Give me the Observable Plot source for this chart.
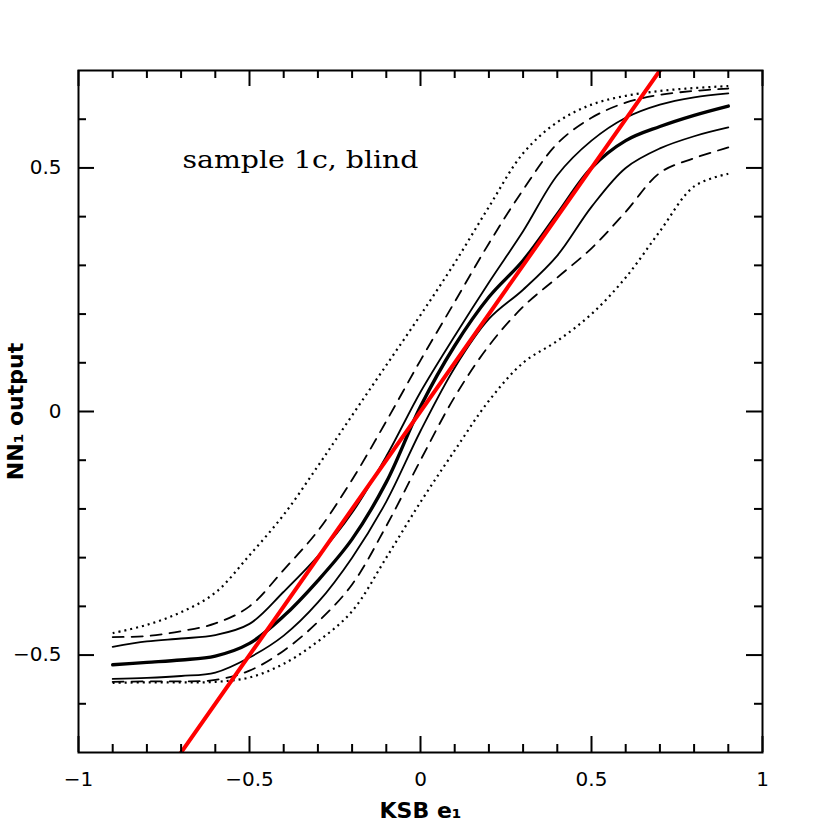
<!DOCTYPE html>
<html>
<head>
<meta charset="utf-8">
<script src="https://cdn.jsdelivr.net/npm/d3@7"></script>
<script src="https://cdn.jsdelivr.net/npm/@observablehq/plot@0.6"></script>
<style>
  html, body { margin: 0; padding: 0; background: #fff; }
</style>
</head>
<body>
<div id="chart"></div>
<script>
// ---- data ----
const xs = [-0.9, -0.8, -0.7, -0.6, -0.5, -0.4, -0.3, -0.2, -0.1, 0, 0.1, 0.2, 0.3, 0.4, 0.5, 0.6, 0.7, 0.8, 0.9];

const median      = [-0.520, -0.515, -0.510, -0.502, -0.476, -0.420, -0.347, -0.262, -0.145, 0.010, 0.135, 0.235, 0.310, 0.405, 0.500, 0.556, 0.585, 0.608, 0.627];
const innerUpper  = [-0.483, -0.472, -0.466, -0.459, -0.436, -0.370, -0.297, -0.208, -0.092, 0.040, 0.155, 0.265, 0.370, 0.485, 0.556, 0.603, 0.630, 0.645, 0.653];
const innerLower  = [-0.549, -0.547, -0.543, -0.536, -0.505, -0.460, -0.392, -0.300, -0.185, -0.040, 0.090, 0.190, 0.250, 0.320, 0.420, 0.500, 0.540, 0.565, 0.583];
const midUpper    = [-0.463, -0.461, -0.451, -0.435, -0.400, -0.325, -0.245, -0.140, -0.020, 0.105, 0.225, 0.345, 0.455, 0.550, 0.603, 0.634, 0.650, 0.658, 0.663];
const midLower    = [-0.555, -0.554, -0.554, -0.551, -0.532, -0.491, -0.432, -0.355, -0.235, -0.100, 0.030, 0.135, 0.215, 0.275, 0.335, 0.410, 0.490, 0.520, 0.542];
const outerUpper  = [-0.455, -0.438, -0.412, -0.372, -0.295, -0.212, -0.112, -0.008, 0.095, 0.198, 0.305, 0.420, 0.530, 0.594, 0.630, 0.648, 0.658, 0.664, 0.668];
const outerLower  = [-0.557, -0.556, -0.556, -0.555, -0.546, -0.518, -0.472, -0.410, -0.300, -0.186, -0.080, 0.022, 0.100, 0.145, 0.200, 0.275, 0.370, 0.462, 0.488];

// identity line y = x (reference line)
const identity = [-1, 1];

// ticks
const majorX = [-1, -0.5, 0, 0.5, 1];
const minorX = [-0.9, -0.8, -0.7, -0.6, -0.4, -0.3, -0.2, -0.1, 0.1, 0.2, 0.3, 0.4, 0.6, 0.7, 0.8, 0.9];
const majorY = [-0.5, 0, 0.5];
const minorY = [-0.6, -0.4, -0.3, -0.2, -0.1, 0.1, 0.2, 0.3, 0.4, 0.6];

const xLabel = "KSB e₁";
const yLabel = "NN₁ output";
const note = "sample 1c, blind";

// ---- layout ----
const W = 830, H = 830;
const mL = 78, mR = 68, mT = 70, mB = 78;
const fw = W - mL - mR, fh = H - mT - mB;
const majLen = 16, minLen = 8;

const rows = (ys) => xs.map((x, i) => ({x, y: ys[i]}));
const fmt = d => d < 0 ? "\u2212" + String(Math.abs(d)) : String(d);
const sans = "'DejaVu Sans', Verdana, sans-serif";

const lineOpts = {x: "x", y: "y", stroke: "black", strokeLinejoin: "round", curve: "catmull-rom"};

const chart = Plot.plot({
  width: W, height: H,
  marginLeft: mL, marginRight: mR, marginTop: mT, marginBottom: mB,
  x: {domain: [-1, 1]},
  y: {domain: [-0.7, 0.7]},
  style: {background: "white", fontFamily: sans, color: "black"},
  marks: [
    // curves
    Plot.line(rows(outerUpper), {...lineOpts, strokeWidth: 2.2, strokeDasharray: "2,4", strokeLinecap: "butt"}),
    Plot.line(rows(outerLower), {...lineOpts, strokeWidth: 2.2, strokeDasharray: "2,4", strokeLinecap: "butt"}),
    Plot.line(rows(midUpper), {...lineOpts, strokeWidth: 1.8, strokeDasharray: "11,8"}),
    Plot.line(rows(midLower), {...lineOpts, strokeWidth: 1.8, strokeDasharray: "11,8"}),
    Plot.line(rows(innerUpper), {...lineOpts, strokeWidth: 1.8}),
    Plot.line(rows(innerLower), {...lineOpts, strokeWidth: 1.8}),
    Plot.line(rows(median), {...lineOpts, strokeWidth: 3.4}),
    // identity line
    Plot.line(identity, {x: d => d, y: d => d, stroke: "#ff0000", strokeWidth: 4, clip: true}),
    // inward ticks on all four sides
    Plot.tickX(majorX, {x: d => d, insetTop: fh - majLen, strokeWidth: 2}),
    Plot.tickX(minorX, {x: d => d, insetTop: fh - minLen, strokeWidth: 2}),
    Plot.tickX(majorX, {x: d => d, insetBottom: fh - majLen, strokeWidth: 2}),
    Plot.tickX(minorX, {x: d => d, insetBottom: fh - minLen, strokeWidth: 2}),
    Plot.tickY(majorY, {y: d => d, insetRight: fw - majLen, strokeWidth: 2}),
    Plot.tickY(minorY, {y: d => d, insetRight: fw - minLen, strokeWidth: 2}),
    Plot.tickY(majorY, {y: d => d, insetLeft: fw - majLen, strokeWidth: 2}),
    Plot.tickY(minorY, {y: d => d, insetLeft: fw - minLen, strokeWidth: 2}),
    Plot.frame({stroke: "black", strokeWidth: 2}),
    // tick labels
    Plot.axisX(majorX, {tickSize: 0, tickPadding: 19, fontSize: 20, tickFormat: fmt, label: null,
                        stroke: "black", strokeWidth: 0.6}),
    Plot.axisY(majorY, {tickSize: 0, tickPadding: 17, fontSize: 20, tickFormat: fmt, label: null,
                        stroke: "black", strokeWidth: 0.6}),
    // axis titles
    Plot.text([xLabel], {frameAnchor: "bottom", dy: 58, lineAnchor: "middle", textAnchor: "middle",
                         fontSize: 22, fontWeight: "bold"}),
    Plot.text([yLabel], {frameAnchor: "left", dx: -63, rotate: -90, lineAnchor: "middle", textAnchor: "middle",
                         fontSize: 22, fontWeight: "bold"}),
    // annotation
    Plot.text([note], {frameAnchor: "top-left", dx: 104, dy: 90, textAnchor: "start", lineAnchor: "middle",
                       fontSize: 24, fontFamily: "'DejaVu Serif', 'Liberation Serif', serif"})
  ]
});

d3.select(chart).selectAll("text")
  .filter(function() { return this.textContent === note; })
  .attr("textLength", 236).attr("lengthAdjust", "spacingAndGlyphs");
document.getElementById("chart").appendChild(chart);
</script>
</body>
</html>
